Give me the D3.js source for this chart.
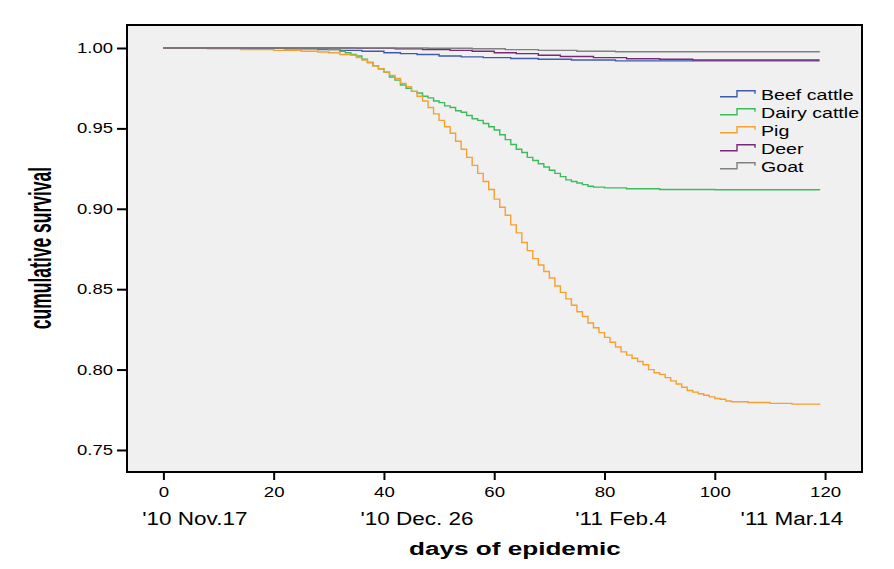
<!DOCTYPE html>
<html><head><meta charset="utf-8">
<script src="https://cdn.jsdelivr.net/npm/d3@7"></script>
<style>
body{margin:0;background:#fff;}
svg text{font-family:"Liberation Sans",Arial,sans-serif;fill:#000;}
</style></head>
<body>
<svg id="chart" width="894" height="569"></svg>
<script>
// ---- data ----
const seriesNames = ["Beef cattle","Dairy cattle","Pig","Deer","Goat"];
const beefDays  = [0,15,22,28,32,36,40,43,46,50,54,58,63,68,74,82,119];
const beefVals  = [1,0.9998,0.9995,0.999,0.9985,0.998,0.997,0.9965,0.996,0.995,0.9945,0.994,0.9935,0.993,0.9925,0.992,0.992];
const dairyDays = [0,22,28,30,32,33,34,35,36,37,38,39,40,41,42,43,44,45,46,47,48,49,50,51,52,53,54,55,56,57,58,59,60,61,62,63,64,65,66,67,68,69,70,71,72,73,74,75,76,77,78,80,84,90,100,119];
const dairyVals = [1,0.9998,0.9995,0.999,0.998,0.997,0.996,0.995,0.993,0.991,0.989,0.987,0.985,0.982,0.980,0.977,0.975,0.973,0.972,0.970,0.969,0.967,0.966,0.964,0.963,0.961,0.960,0.958,0.956,0.955,0.953,0.951,0.949,0.946,0.943,0.940,0.937,0.935,0.932,0.930,0.928,0.926,0.924,0.922,0.920,0.918,0.917,0.916,0.915,0.914,0.9135,0.913,0.9125,0.912,0.9118,0.9115];
const pigDays = [0,8,14,20,25,28,30,32,34,35,36,37,38,39,40,41,42,43,44,45,46,47,48,49,50,51,52,53,54,55,56,57,58,59,60,61,62,63,64,65,66,67,68,69,70,71,72,73,74,75,76,77,78,79,80,81,82,83,84,85,86,87,88,89,90,91,92,93,94,95,96,97,98,99,100,101,102,103,106,110,114,119];
const pigVals = [1,0.9995,0.999,0.9985,0.998,0.9975,0.997,0.996,0.9955,0.994,0.9925,0.991,0.989,0.987,0.985,0.983,0.981,0.978,0.976,0.973,0.970,0.967,0.963,0.959,0.955,0.951,0.947,0.942,0.937,0.932,0.927,0.922,0.917,0.912,0.906,0.901,0.896,0.890,0.885,0.879,0.874,0.869,0.865,0.861,0.857,0.852,0.848,0.844,0.840,0.836,0.833,0.829,0.826,0.823,0.820,0.817,0.814,0.811,0.809,0.807,0.805,0.803,0.800,0.798,0.797,0.795,0.793,0.791,0.789,0.787,0.786,0.785,0.784,0.783,0.782,0.7815,0.7805,0.780,0.7795,0.779,0.7785,0.778];
const deerDays = [0,35,42,47,52,56,60,64,68,72,78,84,90,96,119];
const deerVals = [1,0.9998,0.9995,0.999,0.9985,0.998,0.997,0.9965,0.9955,0.9947,0.994,0.9933,0.993,0.9925,0.9925];
const goatDays = [0,48,56,62,68,75,82,119];
const goatVals = [1,0.9998,0.9995,0.999,0.9985,0.998,0.9977,0.9976];
const yTicks = [0.75,0.80,0.85,0.90,0.95,1.00];
const xTicks = [0,20,40,60,80,100,120];
const dateLabels = ["'10 Nov.17","'10 Dec. 26","'11 Feb.4","'11 Mar.14"];

// ---- layout / style ----
const colors = ["#3f5bab","#3dba5c","#f5a031","#762a78","#808080"];
const dateLabelAt = [5.7,46,83,114];
const L=127,T=25,R=862,B=472;
const svg = d3.select("#chart");
const x = d3.scaleLinear().domain([-6.6,126.7]).range([L,R]);
const y = d3.scaleLinear().domain([0.7363,1.0143]).range([B,T]);

// stretch text glyphs horizontally (reference uses a wide rendering), keeping the anchor
function stretch(sel, f){
  sel.each(function(){
    const el = d3.select(this);
    const w = this.getComputedTextLength();
    const anchor = getComputedStyle(this).textAnchor;
    const x0 = +(el.attr("x") || 0);
    const W = w*f;
    let nx = x0;
    if (anchor === "end") nx = x0 - W;
    else if (anchor === "middle") nx = x0 - W/2;
    el.attr("x", nx).attr("text-anchor","start")
      .attr("textLength", W).attr("lengthAdjust","spacingAndGlyphs");
  });
}

svg.append("rect").attr("x",L).attr("y",T).attr("width",R-L).attr("height",B-T)
  .attr("fill","#f0f0f0");

const series = [
  {days:beefDays, vals:beefVals},
  {days:dairyDays, vals:dairyVals},
  {days:pigDays, vals:pigVals},
  {days:deerDays, vals:deerVals},
  {days:goatDays, vals:goatVals}
];
const line = d3.line().x(d=>x(d[0])).y(d=>y(d[1])).curve(d3.curveStepAfter);
series.forEach((s,i)=>{
  svg.append("path").datum(s.days.map((d,j)=>[d,s.vals[j]]))
    .attr("d",line).attr("fill","none").attr("stroke",colors[i]).attr("stroke-width",1.4);
});

// frame
svg.append("rect").attr("x",L).attr("y",T).attr("width",R-L).attr("height",B-T)
  .attr("fill","none").attr("stroke","#000").attr("stroke-width",2);

// y axis
const yAxis = svg.append("g").attr("transform",`translate(${L},0)`)
  .call(d3.axisLeft(y).tickValues(yTicks).tickFormat(d3.format(".2f")).tickSize(10).tickSizeOuter(0).tickPadding(4));
yAxis.select(".domain").remove();
yAxis.selectAll("line").attr("stroke","#000").attr("stroke-width",2);
yAxis.selectAll("text").attr("font-size",14).attr("fill","#000")
  .style("font-family","'Liberation Sans',Arial,sans-serif").call(stretch,1.32);

// x axis
const xAxis = svg.append("g").attr("transform",`translate(0,${B})`)
  .call(d3.axisBottom(x).tickValues(xTicks).tickFormat(d3.format("d")).tickSize(8).tickSizeOuter(0).tickPadding(7));
xAxis.select(".domain").remove();
xAxis.selectAll("line").attr("stroke","#000").attr("stroke-width",2);
xAxis.selectAll("text").attr("font-size",14).attr("fill","#000")
  .style("font-family","'Liberation Sans',Arial,sans-serif").call(stretch,1.33);

// date labels
svg.append("g").selectAll("text").data(dateLabels).join("text")
  .attr("x",(d,i)=>x(dateLabelAt[i])).attr("y",525)
  .attr("text-anchor","middle").attr("font-size",18)
  .text(d=>d).call(stretch,1.25);

// axis titles
svg.append("text").attr("x",515).attr("y",555).attr("text-anchor","middle")
  .attr("font-size",18).attr("font-weight","bold")
  .text("days of epidemic").call(stretch,1.45);
svg.append("text").attr("transform","translate(51,248) rotate(-90) scale(1,1.8)")
  .attr("text-anchor","middle").attr("font-size",17.5).attr("font-weight","bold")
  .text("cumulative survival");

// legend
const leg = svg.append("g");
seriesNames.forEach((n,i)=>{
  const by = 100 + i*18;
  leg.append("path")
    .attr("d",`M720,${by-3.3}H737V${by-9.3}H755V${by-6.3}`)
    .attr("fill","none").attr("stroke",colors[i]).attr("stroke-width",1.4);
  leg.append("text").attr("x",761).attr("y",by).attr("font-size",14)
    .text(n).call(stretch,1.4);
});
</script>
</body></html>
